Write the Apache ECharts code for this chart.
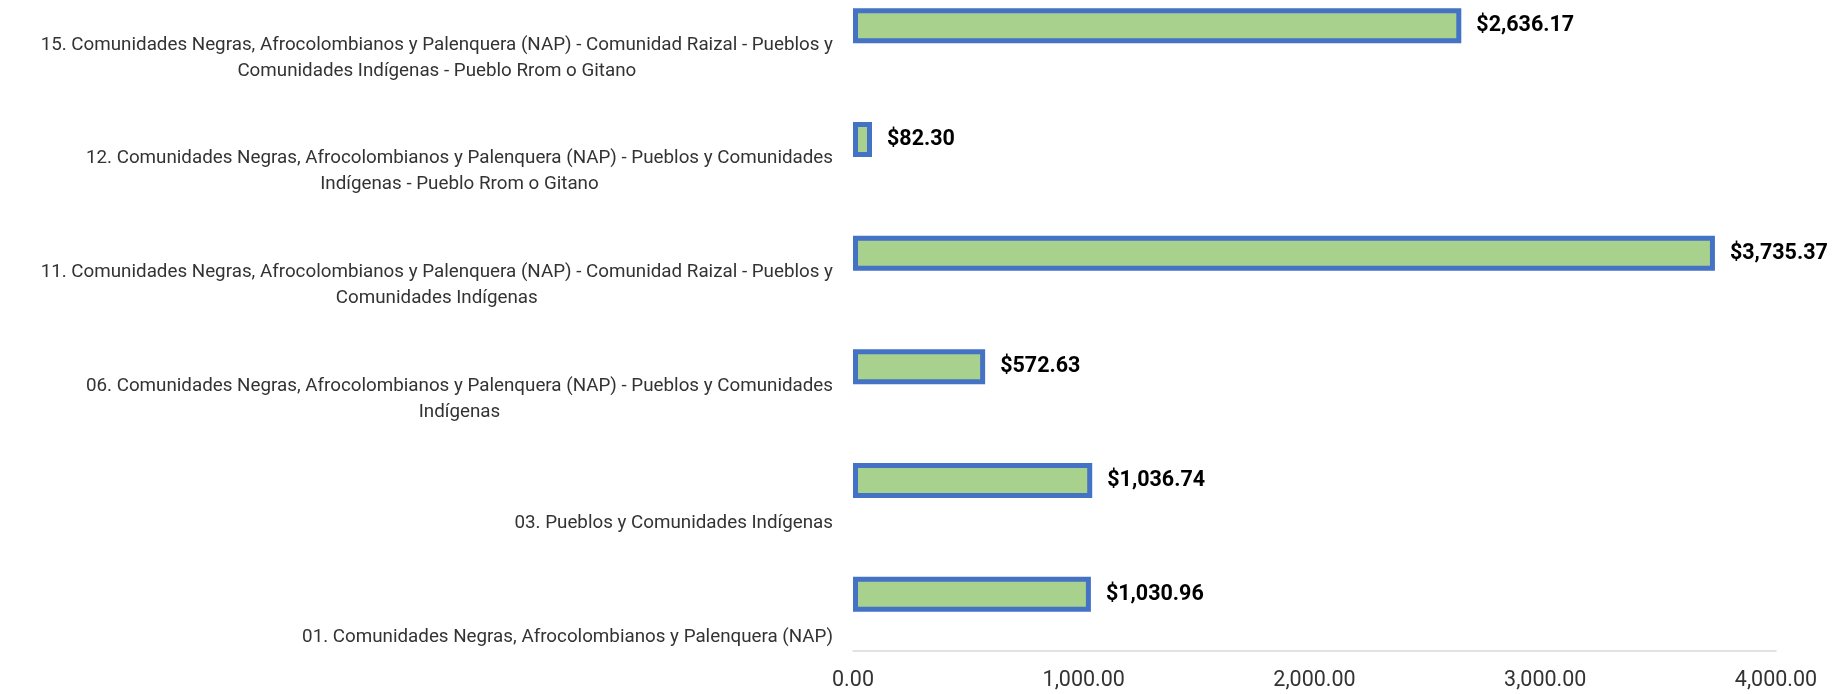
<!DOCTYPE html>
<html>
<head>
<meta charset="utf-8">
<script src="https://cdn.jsdelivr.net/npm/echarts@6/dist/echarts.min.js"></script>
<style>
  html, body { margin: 0; padding: 0; background: #fff; }
  #chart { width: 1834px; height: 694px; }
</style>
</head>
<body>
<div id="chart"></div>
<script>
// categorías de abajo hacia arriba (orden del eje)
var categories = [
  '01. Comunidades Negras, Afrocolombianos y Palenquera (NAP)',
  '03. Pueblos y Comunidades Indígenas',
  '06. Comunidades Negras, Afrocolombianos y Palenquera (NAP) - Pueblos y Comunidades\nIndígenas',
  '11. Comunidades Negras, Afrocolombianos y Palenquera (NAP) - Comunidad Raizal - Pueblos y\nComunidades Indígenas',
  '12. Comunidades Negras, Afrocolombianos y Palenquera (NAP) - Pueblos y Comunidades\nIndígenas - Pueblo Rrom o Gitano',
  '15. Comunidades Negras, Afrocolombianos y Palenquera (NAP) - Comunidad Raizal - Pueblos y\nComunidades Indígenas - Pueblo Rrom o Gitano'
];
var values = [1030.96, 1036.74, 572.63, 3735.37, 82.30, 2636.17];
var xTicks = [0, 1000, 2000, 3000, 4000];

var FONT = 'Roboto, "Noto Sans", sans-serif';

function fmtNum(v) {
  return Number(v).toLocaleString('en-US', { minimumFractionDigits: 2, maximumFractionDigits: 2 });
}

var chart = echarts.init(document.getElementById('chart'));

var option = {
  backgroundColor: '#fff',
  animation: false,
  grid: {
    left: 853,
    right: 58,
    top: -31,
    bottom: 43,
    containLabel: false,
    outerBoundsMode: 'none'
  },
  xAxis: {
    type: 'value',
    min: xTicks[0],
    max: xTicks[xTicks.length - 1],
    interval: 1000,
    axisLine: { show: true, lineStyle: { color: '#d9d9d9', width: 1.5 } },
    axisTick: { show: false },
    splitLine: { show: false },
    axisLabel: {
      margin: 19,
      fontFamily: FONT,
      fontSize: 21.5,
      color: '#333',
      formatter: function(v) { return fmtNum(v); }
    }
  },
  yAxis: {
    type: 'category',
    data: categories,
    axisLine: { show: false },
    axisTick: { show: false },
    axisLabel: {
      interval: 0,
      margin: 20,
      align: 'right',
      verticalAlign: 'top',
      formatter: function(label) {
        var lines = label.split('\n');
        // espaciador para bajar el texto como en el original
        var out = lines.length > 1 ? '{s2| }' : '{s1| }';
        for (var i = 0; i < lines.length; i++) {
          out += '\n{a|' + lines[i] + '}';
        }
        return out;
      },
      rich: {
        a: { fontFamily: FONT, fontSize: 18.8, lineHeight: 26, color: '#333', align: 'center' },
        s1: { fontSize: 1, lineHeight: 30, align: 'center' },
        s2: { fontSize: 1, lineHeight: 6, align: 'center' }
      }
    }
  },
  series: [{
    type: 'bar',
    data: values,
    barWidth: 35,
    itemStyle: {
      color: '#A9D18E',
      borderColor: '#4472C4',
      borderWidth: 5
    },
    label: {
      show: true,
      position: 'right',
      distance: 15,
      fontFamily: FONT,
      fontSize: 21.5,
      fontWeight: 'bold',
      color: '#000',
      formatter: function(p) { return '$' + fmtNum(p.value); }
    }
  }]
};

chart.setOption(option);
</script>
</body>
</html>
